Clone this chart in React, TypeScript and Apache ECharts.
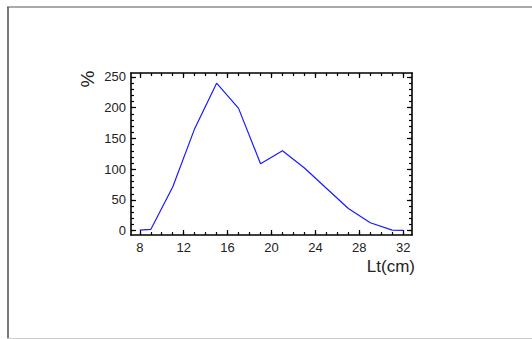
import React, { useEffect, useRef } from "react";
import * as echarts from "echarts";

const lengthsCm = [8, 9, 11, 13, 15, 17, 19, 21, 23, 25, 27, 29, 31, 32];
const percentValues = [1, 2, 71, 166, 240, 199, 109, 130, 102, 69, 36, 13, 1, 0.5];
const xMajorTicks = [8, 12, 16, 20, 24, 28, 32];
const xMinorTicks = [8, 9, 10, 11, 12, 13, 14, 15, 16, 17, 18, 19, 20, 21, 22, 23, 24, 25, 26, 27, 28, 29, 30, 31, 32];
const yMajorTicks = [0, 50, 100, 150, 200, 250];
const yMinorTicks = [0, 10, 20, 30, 40, 50, 60, 70, 80, 90, 100, 110, 120, 130, 140, 150, 160, 170, 180, 190, 200, 210, 220, 230, 240, 250];
const xTitle = "Lt(cm)";
const yTitle = "%";

const X_MIN = 7.2;
const X_MAX = 32.8;
const Y_MIN = -7;
const Y_MAX = 256.5;

const FONT = "Liberation Sans, Arial, sans-serif";

function makeAxis(kind: "x" | "y", position: string, major: boolean, showLine: boolean, showLabel: boolean) {
  const ticks = kind === "x" ? (major ? xMajorTicks : xMinorTicks) : major ? yMajorTicks : yMinorTicks;
  return {
    type: "value",
    position,
    min: kind === "x" ? X_MIN : Y_MIN,
    max: kind === "x" ? X_MAX : Y_MAX,
    axisLine: { show: showLine, onZero: false, lineStyle: { color: "#000", width: 1.6 } },
    axisTick: {
      show: true,
      inside: true,
      length: major ? 5 : 3,
      customValues: ticks,
      lineStyle: { color: "#000", width: 1.2 },
    },
    axisLabel: {
      show: showLabel,
      customValues: major ? ticks : undefined,
      color: "#222",
      fontFamily: FONT,
      fontSize: 13,
      margin: kind === "x" ? 6 : 5,
    },
    splitLine: { show: false },
    minorTick: { show: false },
  };
}

export default function App() {
  const ref = useRef<HTMLDivElement>(null);
  useEffect(() => {
    if (!ref.current) return;
    const chart = echarts.init(ref.current, undefined, { renderer: "svg" });
    chart.setOption({
      animation: false,
      backgroundColor: "#fff",
      grid: { left: 131, top: 73, right: 120, bottom: 104, containLabel: false },
      xAxis: [
        makeAxis("x", "bottom", true, true, true),
        makeAxis("x", "bottom", false, false, false),
        makeAxis("x", "top", true, true, false),
        makeAxis("x", "top", false, false, false),
      ],
      yAxis: [
        makeAxis("y", "left", true, true, true),
        makeAxis("y", "left", false, false, false),
        makeAxis("y", "right", true, true, false),
        makeAxis("y", "right", false, false, false),
      ],
      series: [
        {
          type: "line",
          xAxisIndex: 0,
          yAxisIndex: 0,
          data: lengthsCm.map((x, i) => [x, percentValues[i]]),
          showSymbol: false,
          lineStyle: { color: "#1a1aff", width: 1.2 },
          itemStyle: { color: "#1a1aff" },
        },
      ],
      graphic: [
        {
          type: "line",
          shape: { x1: 8, y1: 7, x2: 8, y2: 339 },
          style: { stroke: "#7a7a7a", lineWidth: 2 },
          silent: true,
        },
        {
          type: "line",
          shape: { x1: 7, y1: 7, x2: 532, y2: 7 },
          style: { stroke: "#555", lineWidth: 1 },
          silent: true,
        },
        {
          type: "line",
          shape: { x1: 7, y1: 338.5, x2: 532, y2: 338.5 },
          style: { stroke: "#ccc", lineWidth: 1 },
          silent: true,
        },
        {
          type: "text",
          x: 415,
          y: 266,
          style: {
            text: xTitle,
            fill: "#222",
            font: `17px ${FONT}`,
            textAlign: "right",
            textVerticalAlign: "middle",
          },
        },
        {
          type: "text",
          x: 87,
          y: 79,
          rotation: Math.PI / 2,
          style: {
            text: yTitle,
            fill: "#222",
            font: `19px ${FONT}`,
            textAlign: "center",
            textVerticalAlign: "middle",
          },
        },
      ],
    });
    return () => chart.dispose();
  }, []);
  return (
    <div
      ref={ref}
      style={{ position: "fixed", left: 0, top: 0, width: 532, height: 339 }}
    />
  );
}
